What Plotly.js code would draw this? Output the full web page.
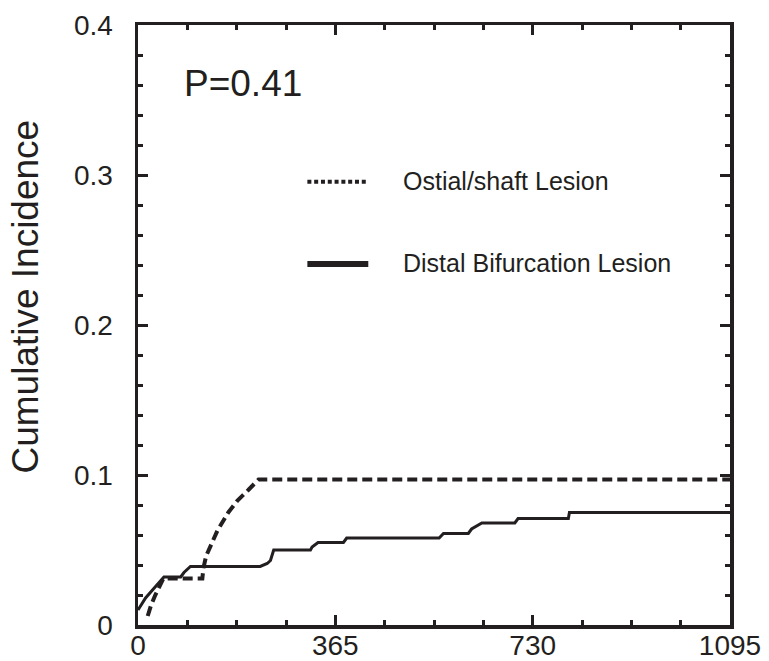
<!DOCTYPE html>
<html>
<head>
<meta charset="utf-8">
<script src="https://cdn.plot.ly/plotly-3.0.1.min.js"></script>
<style>
  html, body { margin: 0; padding: 0; background: #ffffff; }
  #chart { width: 769px; height: 661px; }
</style>
</head>
<body>
<div id="chart"></div>
<script>
// Cumulative incidence over follow-up (days) by lesion location
const ostialDays = [18, 24, 32, 42, 47, 119, 121, 126, 147, 167, 184, 204, 223, 1095];
const ostialInc  = [0.006, 0.013, 0.020, 0.027, 0.031, 0.031, 0.038, 0.046, 0.063, 0.075, 0.083, 0.090, 0.097, 0.097];

const distalDays = [0, 14, 26, 42, 48, 79, 85, 97, 226, 239, 245, 251, 319, 322, 333, 380, 386, 557, 565, 611, 617, 636, 697, 703, 796, 798, 1095];
const distalInc  = [0.010, 0.018, 0.023, 0.030, 0.032, 0.032, 0.035, 0.039, 0.039, 0.041, 0.043, 0.050, 0.050, 0.052, 0.055, 0.055, 0.058, 0.058, 0.061, 0.061, 0.064, 0.068, 0.068, 0.071, 0.071, 0.075, 0.075];

const xTickVals = [0, 365, 730, 1095];
const xTickText = ['0', '365', '730', '1095'];
const yTickVals = [0, 0.1, 0.2, 0.3, 0.4];
const yTickText = ['0', '0.1', '0.2', '0.3', '0.4'];

const seriesNames = ['Ostial/shaft Lesion', 'Distal Bifurcation Lesion'];
const pText = 'P=0.41';
const yTitle = 'Cumulative Incidence';

const ink = '#231f20';
const font = 'Liberation Sans, Arial, Helvetica, sans-serif';

const traces = [
  {
    x: ostialDays, y: ostialInc, type: 'scatter', mode: 'lines',
    name: seriesNames[0], showlegend: false,
    line: { color: ink, width: 4, dash: '10px,5px' }
  },
  {
    x: distalDays, y: distalInc, type: 'scatter', mode: 'lines',
    name: seriesNames[1], showlegend: false,
    line: { color: ink, width: 3 }
  }
];

const axisCommon = {
  showgrid: false, zeroline: false,
  showline: true, linecolor: ink, linewidth: 3.5,
  mirror: 'ticks', ticks: 'inside', ticklen: 10, tickwidth: 3, tickcolor: ink,
  tickfont: { family: font, size: 28, color: ink },
  fixedrange: true
};

const layout = {
  width: 769, height: 661,
  margin: { l: 137.5, r: 39, t: 25, b: 36 },
  paper_bgcolor: '#ffffff', plot_bgcolor: '#ffffff',
  showlegend: false,
  xaxis: Object.assign({}, axisCommon, {
    range: [0, 1095],
    tickmode: 'array', tickvals: xTickVals, ticktext: xTickText,
    ticklabelstandoff: -7,
    minor: { dtick: 91.25, tick0: 0, ticks: 'inside', ticklen: 5, tickwidth: 3, tickcolor: ink, showgrid: false }
  }),
  yaxis: Object.assign({}, axisCommon, {
    range: [0, 0.4],
    tickmode: 'array', tickvals: yTickVals, ticktext: yTickText,
    ticklabelstandoff: 16,
    minor: { dtick: 0.02, tick0: 0, ticks: 'inside', ticklen: 5, tickwidth: 3, tickcolor: ink, showgrid: false }
  }),
  shapes: [
    // legend samples
    { type: 'line', xref: 'paper', yref: 'paper', x0: 0.2861, x1: 0.3890, y0: 0.7388, y1: 0.7388,
      line: { color: ink, width: 4, dash: '4px,2.8px' } },
    { type: 'line', xref: 'paper', yref: 'paper', x0: 0.2861, x1: 0.3890, y0: 0.6017, y1: 0.6017,
      line: { color: ink, width: 6 } }
  ],
  annotations: [
    { xref: 'paper', yref: 'paper', x: 0.4442, y: 0.7400, xanchor: 'left', yanchor: 'middle',
      text: seriesNames[0], showarrow: false, font: { family: font, size: 25, color: ink } },
    { xref: 'paper', yref: 'paper', x: 0.4442, y: 0.6033, xanchor: 'left', yanchor: 'middle',
      text: seriesNames[1], showarrow: false, font: { family: font, size: 25, color: ink } },
    { xref: 'paper', yref: 'paper', x: 0.0746, y: 0.9033, xanchor: 'left', yanchor: 'middle',
      text: pText, showarrow: false, font: { family: font, size: 37, color: ink } },
    { xref: 'paper', yref: 'paper', x: -0.1899, y: 0.5467, xanchor: 'center', yanchor: 'middle',
      text: yTitle, textangle: -90, showarrow: false, font: { family: font, size: 37, color: ink } }
  ]
};

Plotly.newPlot('chart', traces, layout, { displayModeBar: false, staticPlot: true });
</script>
</body>
</html>
